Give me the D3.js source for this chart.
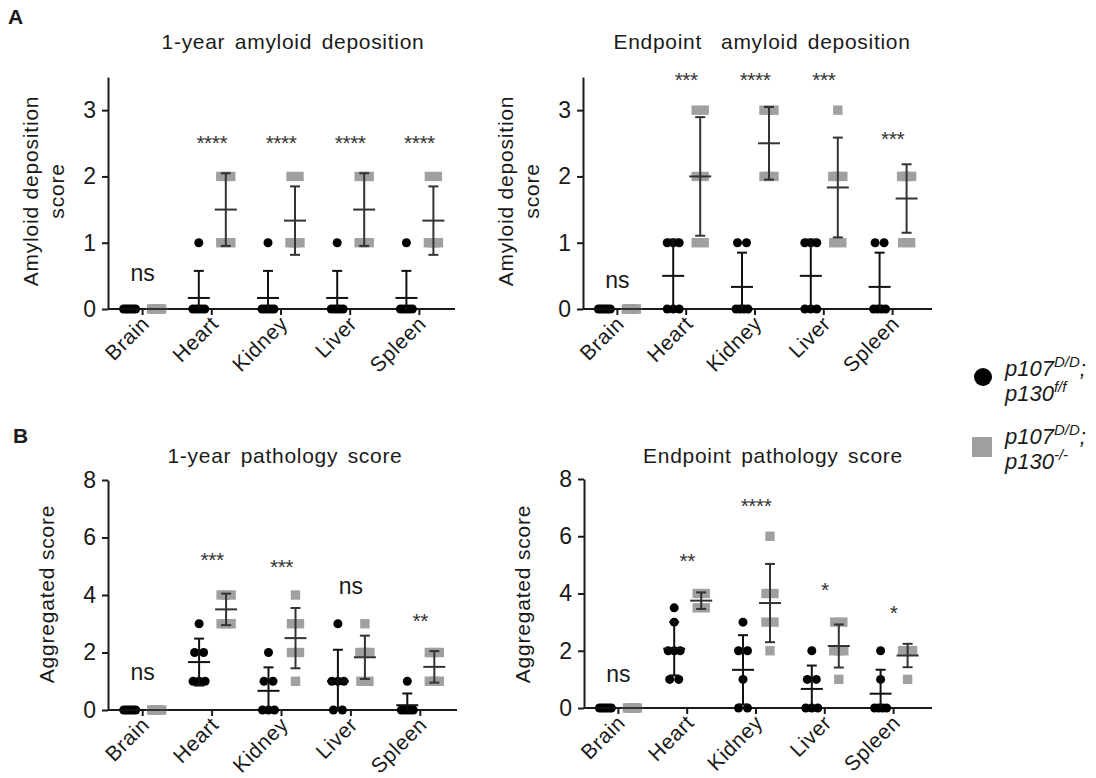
<!DOCTYPE html>
<html lang="en">
<head>
<meta charset="UTF-8">
<title>Amyloid deposition and pathology scores</title>
<script src="https://d3js.org/d3.v7.min.js"></script>
<style>
  body { margin: 0; background: #fff; }
  svg { font-family: "Liberation Sans", Arial, sans-serif; }
</style>
</head>
<body>
<svg id="chart" width="1096" height="778"></svg>
<script>
const categories = ["Brain", "Heart", "Kidney", "Liver", "Spleen"];

// individual animal scores, one array per organ (order = categories)
// ctrl = p107D/D;p130f/f , ko = p107D/D;p130-/-
const amy1yCtrl = [[0,0,0,0,0,0], [0,0,0,0,0,1], [0,0,0,0,0,1], [0,0,0,0,0,1], [0,0,0,0,0,1]];
const amy1yKO   = [[0,0,0,0,0,0], [1,1,1,2,2,2], [1,1,1,1,2,2], [1,1,1,2,2,2], [1,1,1,1,2,2]];
const amyEndCtrl = [[0,0,0,0,0,0], [0,0,0,1,1,1], [0,0,0,0,1,1], [0,0,0,1,1,1], [0,0,0,0,1,1]];
const amyEndKO   = [[0,0,0,0,0,0], [1,1,2,2,3,3], [2,2,2,3,3,3], [1,1,2,2,2,3], [1,1,2,2,2,2]];
const path1yCtrl = [[0,0,0,0,0,0], [1,1,1,2,2,3], [0,0,0,1,1,2], [0,0,1,1,1,3], [0,0,0,0,0,1]];
const path1yKO   = [[0,0,0,0,0,0], [3,3,3,4,4,4], [1,2,2,3,3,4], [1,1,2,2,2,3], [1,1,1,2,2,2]];
const pathEndCtrl = [[0,0,0,0,0,0], [1,1,2,2,2,3,3.5], [0,0,1,2,2,3], [0,0,0,1,1,2], [0,0,0,0,1,2]];
const pathEndKO   = [[0,0,0,0,0,0], [3.5,3.5,4,4], [2,3,3,4,4,6], [1,2,2,2,3,3], [1,2,2,2,2,2]];

// significance labels and the height (in data units) where they sit
const sigAmy1y = ["ns", "****", "****", "****", "****"];
const sigAmy1yAt = [0.51, 2.58, 2.58, 2.58, 2.58];
const sigAmyEnd = ["ns", "***", "****", "***", "***"];
const sigAmyEndAt = [0.41, 3.53, 3.53, 3.53, 2.64];
const sigPath1y = ["ns", "***", "***", "ns", "**"];
const sigPath1yAt = [1.25, 5.39, 5.15, 4.24, 3.27];
const sigPathEnd = ["ns", "**", "****", "*", "*"];
const sigPathEndAt = [1.12, 5.33, 7.23, 4.32, 3.51];

const amyTicks = [0, 1, 2, 3];
const pathTicks = [0, 2, 4, 6, 8];

const ink = "#1a1a1a";
const grey = "#a0a0a0";

const svg = d3.select("#chart");

const panels = [
  { title: "1-year amyloid deposition", ctrl: amy1yCtrl, ko: amy1yKO, sig: sigAmy1y, sigAt: sigAmy1yAt,
    yMax: 3.5, ticks: amyTicks, yLabel: ["Amyloid deposition", "score"],
    x0: 108, x1: 454, xEnd: 455, y0: 309, yTop: 77, titleX: 293, titleY: 49, labelY: 191 },
  { title: "Endpoint  amyloid deposition", ctrl: amyEndCtrl, ko: amyEndKO, sig: sigAmyEnd, sigAt: sigAmyEndAt,
    yMax: 3.5, ticks: amyTicks, yLabel: ["Amyloid deposition", "score"],
    x0: 583, x1: 927, xEnd: 932, y0: 309, yTop: 77, titleX: 762, titleY: 49, labelY: 191 },
  { title: "1-year pathology score", ctrl: path1yCtrl, ko: path1yKO, sig: sigPath1y, sigAt: sigPath1yAt,
    yMax: 8, ticks: pathTicks, yLabel: ["Aggregated score"],
    x0: 108, x1: 455, xEnd: 457, y0: 710, yTop: 480, titleX: 285, titleY: 463, labelY: 594 },
  { title: "Endpoint pathology score", ctrl: pathEndCtrl, ko: pathEndKO, sig: sigPathEnd, sigAt: sigPathEndAt,
    yMax: 8, ticks: pathTicks, yLabel: ["Aggregated score"],
    x0: 584, x1: 928, xEnd: 932, y0: 708, yTop: 479, titleX: 773, titleY: 463, labelY: 594 }
];

// spread identical values side by side, like Prism's scatter columns
function spread(values, width, maxStep) {
  const counts = d3.rollup(values, v => v.length, d => d);
  const seen = new Map();
  return values.map(v => {
    const n = counts.get(v);
    const i = seen.get(v) || 0;
    seen.set(v, i + 1);
    const step = n > 1 ? Math.min(maxStep, width / (n - 1)) : 0;
    return { v, dx: (i - (n - 1) / 2) * step };
  });
}

function drawPanel(p) {
  const g = svg.append("g");
  const y = d3.scaleLinear().domain([0, p.yMax]).range([p.y0, p.yTop]);
  const x = d3.scaleBand().domain(categories).range([p.x0, p.x1]);
  const cx = c => x(c) + x.bandwidth() / 2;

  // title
  g.append("text")
    .attr("x", p.titleX).attr("y", p.titleY)
    .attr("text-anchor", "middle")
    .attr("xml:space", "preserve")
    .style("white-space", "pre")
    .attr("font-size", 21).attr("letter-spacing", 0.7).attr("word-spacing", 3)
    .attr("fill", ink)
    .text(p.title);

  // y label (one or two lines)
  const lab = g.append("text")
    .attr("transform", `translate(${p.x0 - (p.yLabel.length > 1 ? 70 : 54)},${p.labelY}) rotate(-90)`)
    .attr("text-anchor", "middle")
    .attr("font-size", 21).attr("letter-spacing", 0.8)
    .attr("fill", ink);
  p.yLabel.forEach((t, i) => lab.append("tspan").attr("x", 0).attr("dy", i ? 26 : 0).text(t));

  // axes
  const yAxis = g.append("g")
    .attr("transform", `translate(${p.x0},0)`)
    .call(d3.axisLeft(y).tickValues(p.ticks).tickFormat(d3.format("d"))
      .tickSize(6).tickSizeOuter(0).tickPadding(6));
  yAxis.selectAll("text").attr("font-size", 23).attr("fill", ink).attr("font-family", null);

  const xAxis = g.append("g")
    .attr("transform", `translate(0,${p.y0})`)
    .call(d3.axisBottom(x).tickSize(6).tickSizeOuter(0));
  xAxis.select(".domain").attr("d", `M${p.x0},0H${p.xEnd}`);
  xAxis.selectAll("text")
    .attr("y", null).attr("dy", null)
    .attr("text-anchor", "end")
    .attr("transform", "translate(8,16) rotate(-45)")
    .attr("font-size", 21).attr("letter-spacing", 0.6)
    .attr("fill", ink).attr("font-family", null);

  [yAxis, xAxis].forEach(a => {
    a.selectAll(".domain, line").attr("stroke", ink).attr("stroke-width", 2);
  });

  const groups = [
    { data: p.ctrl, off: -13, kind: "dot" },
    { data: p.ko, off: 14, kind: "square" }
  ];

  groups.forEach(grp => {
    categories.forEach((c, ci) => {
      const vals = grp.data[ci];
      const x0 = cx(c) + grp.off;
      if (grp.kind === "dot") {
        g.append("g").selectAll("circle")
          .data(spread(vals, 12, 9))
          .join("circle")
          .attr("cx", d => x0 + d.dx).attr("cy", d => y(d.v))
          .attr("r", 4.5).attr("fill", "#000");
      } else {
        g.append("g").selectAll("rect")
          .data(spread(vals, 10, 8))
          .join("rect")
          .attr("x", d => x0 + d.dx - 4.7).attr("y", d => y(d.v) - 4.7)
          .attr("width", 9.4).attr("height", 9.4).attr("fill", grey);
      }
    });
  });

  // mean +/- SD bars on top of the points
  groups.forEach(grp => {
    categories.forEach((c, ci) => {
      const vals = grp.data[ci];
      const m = d3.mean(vals);
      const sd = d3.deviation(vals) || 0;
      const bx = cx(c) + grp.off;
      const lo = Math.max(0, m - sd);
      const eb = g.append("g").attr("stroke", grp.kind === "dot" ? "#111" : "#333").attr("stroke-width", 2);
      if (sd > 0) {
        eb.append("line").attr("x1", bx).attr("x2", bx).attr("y1", y(lo)).attr("y2", y(m + sd));
        eb.append("line").attr("x1", bx - 5).attr("x2", bx + 5).attr("y1", y(m + sd)).attr("y2", y(m + sd));
        if (m - sd >= 0) {
          eb.append("line").attr("x1", bx - 5).attr("x2", bx + 5).attr("y1", y(m - sd)).attr("y2", y(m - sd));
        }
      }
      eb.append("line").attr("x1", bx - 11).attr("x2", bx + 11).attr("y1", y(m)).attr("y2", y(m));
    });
  });

  // significance
  categories.forEach((c, ci) => {
    const s = p.sig[ci];
    const isNs = s === "ns";
    const fs = isNs ? 23 : 21;
    g.append("text")
      .attr("x", cx(c)).attr("y", y(p.sigAt[ci]) + (isNs ? 0.27 : 0.58) * fs)
      .attr("text-anchor", "middle")
      .attr("font-size", fs).attr("fill", isNs ? ink : "#333")
      .attr("letter-spacing", isNs ? 0 : -0.5)
      .text(s);
  });
}

panels.forEach(drawPanel);

// panel letters
svg.append("text").attr("x", 8).attr("y", 24).attr("font-size", 21).attr("font-weight", "bold").attr("fill", ink).text("A");
svg.append("text").attr("x", 13).attr("y", 443).attr("font-size", 21).attr("font-weight", "bold").attr("fill", ink).text("B");

// legend
const legendItems = [
  { kind: "dot", sup1: "D/D", tail1: ";", sup2: "f/f", y: 376 },
  { kind: "square", sup1: "D/D", tail1: ";", sup2: "-/-", y: 444 }
];
const legend = svg.append("g").attr("fill", ink).attr("font-size", 22).attr("font-style", "italic");
legendItems.forEach(it => {
  if (it.kind === "dot") {
    legend.append("circle").attr("cx", 983).attr("cy", it.y + 1).attr("r", 9).attr("fill", "#000");
  } else {
    legend.append("rect").attr("x", 972).attr("y", it.y - 7).attr("width", 20).attr("height", 20).attr("fill", grey);
  }
  const t1 = legend.append("text").attr("x", 1005).attr("y", it.y);
  t1.append("tspan").text("p107");
  t1.append("tspan").attr("dy", -9).attr("font-size", 15).text(it.sup1);
  t1.append("tspan").attr("dy", 9).text(it.tail1);
  const t2 = legend.append("text").attr("x", 1005).attr("y", it.y + 25);
  t2.append("tspan").text("p130");
  t2.append("tspan").attr("dy", -9).attr("font-size", 15).text(it.sup2);
});
</script>
</body>
</html>
